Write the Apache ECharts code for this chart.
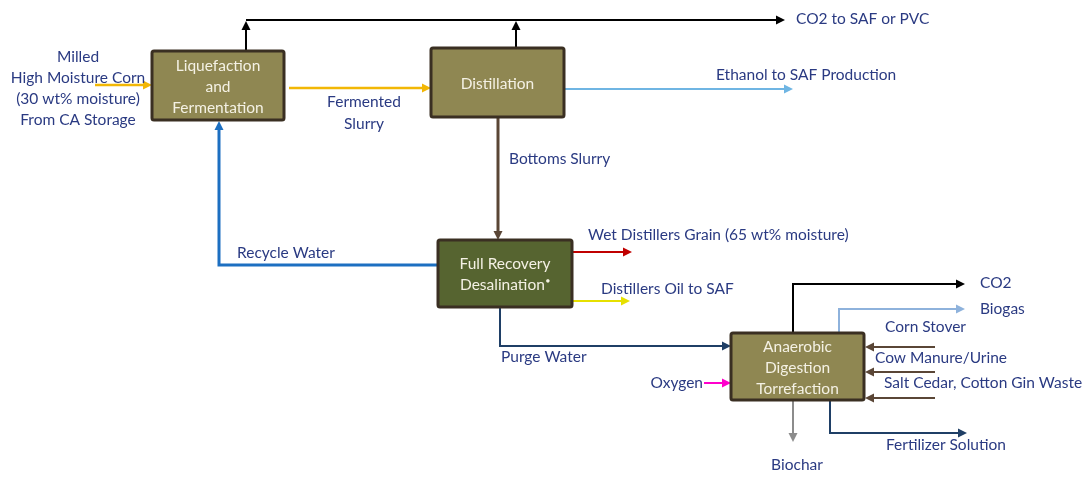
<!DOCTYPE html>
<html>
<head>
<meta charset="utf-8">
<script src="https://cdn.jsdelivr.net/npm/echarts@6/dist/echarts.min.js"></script>
<style>
  html, body { margin: 0; padding: 0; background: #fff; }
  #main { width: 1091px; height: 477px; }
</style>
</head>
<body>
<div id="main"></div>
<script>
// process units: [x1, y1, x2, y2] in diagram units, text, kind
var unitNames = ['Liquefaction\nand\nFermentation', 'Distillation',
                 'Full Recovery\nDesalination{sup|●}', 'Anaerobic\nDigestion\nTorrefaction'];
var unitBoxes = [[152, 51, 284, 120], [431, 48, 564, 117], [438, 240, 572, 307], [731, 333, 864, 400]];
var unitKinds = ['olive', 'olive', 'green', 'olive'];

// flows: polyline points, last point is the arrow tip
var flowPoints = [
  [[246, 51], [246, 21]],
  [[516, 48], [516, 21]],
  [[246, 20], [785, 20]],
  [[95, 85], [152, 85]],
  [[289, 88], [431, 88]],
  [[564, 89], [793, 89]],
  [[498, 117], [498, 240]],
  [[438, 265], [219, 265], [219, 121]],
  [[572, 252], [632, 252]],
  [[572, 301], [630, 301]],
  [[500, 307], [500, 346], [731, 346]],
  [[793, 333], [793, 284], [965, 284]],
  [[839, 333], [839, 309], [965, 309]],
  [[935, 347], [865, 347]],
  [[935, 372], [865, 372]],
  [[935, 398], [865, 398]],
  [[704, 383], [731, 383]],
  [[793, 400], [793, 442]],
  [[830, 388], [830, 433], [967, 433]]
];
var flowKinds = ['co2', 'co2', 'co2', 'corn', 'corn', 'ethanol', 'bottoms', 'recycle',
                 'grain', 'oil', 'purge', 'co2', 'biogas', 'feed', 'feed', 'feed',
                 'oxygen', 'biochar', 'purge'];

// stream labels: text, x, y, anchor
var labelTexts = ['Milled', 'High Moisture Corn', '(30 wt% moisture)', 'From CA Storage',
  'Fermented', 'Slurry', 'CO2 to SAF or PVC', 'Ethanol to SAF Production', 'Bottoms Slurry',
  'Recycle Water', 'Wet Distillers Grain (65 wt% moisture)', 'Distillers Oil to SAF',
  'Purge Water', 'CO2', 'Biogas', 'Corn Stover', 'Cow Manure/Urine',
  'Salt Cedar, Cotton Gin Waste', 'Oxygen', 'Biochar', 'Fertilizer Solution'];
var labelX = [78, 78, 78, 78, 364, 364, 796, 716, 509, 237, 588, 601, 501, 980, 980, 885, 875, 884, 703, 797, 886];
var labelY = [57, 78, 99, 120, 102, 124, 19, 75, 159, 253, 235, 289, 357, 283, 309, 327, 358, 383, 383, 465, 445];
var labelAlign = ['center', 'center', 'center', 'center', 'center', 'center', 'left', 'left', 'left',
  'left', 'left', 'left', 'left', 'left', 'left', 'left', 'left', 'left', 'right', 'center', 'left'];

var flowStyle = {
  co2:     { color: '#000000', width: 2 },
  corn:    { color: '#f2b705', width: 2.5 },
  ethanol: { color: '#6fb5e3', width: 2 },
  bottoms: { color: '#5a4636', width: 3 },
  recycle: { color: '#1c6fc1', width: 3 },
  grain:   { color: '#c00000', width: 2 },
  oil:     { color: '#e6e000', width: 2 },
  purge:   { color: '#1f3f66', width: 2 },
  biogas:  { color: '#8eb2dc', width: 2 },
  feed:    { color: '#5a4636', width: 2 },
  oxygen:  { color: '#ff00cc', width: 2 },
  biochar: { color: '#8c8c8c', width: 2 }
};
var unitFill = { olive: '#8f8752', green: '#566430' };
var textColor = '#2a3a82';
var fontName = 'Lato, "Open Sans", sans-serif';

var chart = echarts.init(document.getElementById('main'));

function renderFlow(params, api) {
  var idx = api.value(2);
  var st = flowStyle[flowKinds[idx]];
  var pts = flowPoints[idx].map(function (p) { return api.coord(p); });
  var n = pts.length, a = pts[n - 2], b = pts[n - 1];
  var dx = b[0] - a[0], dy = b[1] - a[1];
  var len = Math.sqrt(dx * dx + dy * dy), ux = dx / len, uy = dy / len;
  var L = 9, W = 4.5;
  var base = [b[0] - ux * L, b[1] - uy * L];
  var line = pts.slice(0, n - 1).concat([base]);
  return {
    type: 'group',
    children: [
      { type: 'polyline', shape: { points: line },
        style: { stroke: st.color, lineWidth: st.width, fill: null, lineJoin: 'miter' } },
      { type: 'polygon',
        shape: { points: [b, [base[0] - uy * W, base[1] + ux * W], [base[0] + uy * W, base[1] - ux * W]] },
        style: { fill: st.color } }
    ]
  };
}

function renderUnit(params, api) {
  var idx = api.value(2);
  var bx = unitBoxes[idx];
  var p1 = api.coord([bx[0], bx[1]]), p2 = api.coord([bx[2], bx[3]]);
  return {
    type: 'group',
    children: [
      { type: 'rect',
        shape: { x: p1[0], y: p1[1], width: p2[0] - p1[0], height: p2[1] - p1[1], r: 2 },
        style: { fill: unitFill[unitKinds[idx]], stroke: '#3a2f22', lineWidth: 3 } },
      { type: 'text',
        style: {
          x: (p1[0] + p2[0]) / 2, y: (p1[1] + p2[1]) / 2 + 1,
          text: unitNames[idx], fill: '#f4f1e4', font: '15.5px ' + fontName,
          align: 'center', verticalAlign: 'middle', lineHeight: 21,
          rich: { sup: { fontSize: 7, fill: '#f4f1e4', padding: [0, 0, 8, 1], fontFamily: 'Lato' } }
        } }
    ]
  };
}

function renderLabel(params, api) {
  var idx = api.value(2);
  var p = api.coord([labelX[idx], labelY[idx]]);
  return {
    type: 'text',
    style: {
      x: p[0], y: p[1], text: labelTexts[idx], fill: textColor,
      font: '15.5px ' + fontName, align: labelAlign[idx], verticalAlign: 'middle'
    }
  };
}

var option = {
  backgroundColor: '#ffffff',
  animation: false,
  grid: { left: 0, right: 0, top: 0, bottom: 0 },
  xAxis: { type: 'value', min: 0, max: 1091, show: false },
  yAxis: { type: 'value', min: 0, max: 477, inverse: true, show: false },
  series: [
    { type: 'custom', renderItem: renderFlow, silent: true,
      data: flowPoints.map(function (f, i) { return [f[0][0], f[0][1], i]; }) },
    { type: 'custom', renderItem: renderUnit, silent: true,
      data: unitBoxes.map(function (b, i) { return [b[0], b[1], i]; }) },
    { type: 'custom', renderItem: renderLabel, silent: true,
      data: labelTexts.map(function (t, i) { return [labelX[i], labelY[i], i]; }) }
  ]
};
chart.setOption(option);
</script>
</body>
</html>
